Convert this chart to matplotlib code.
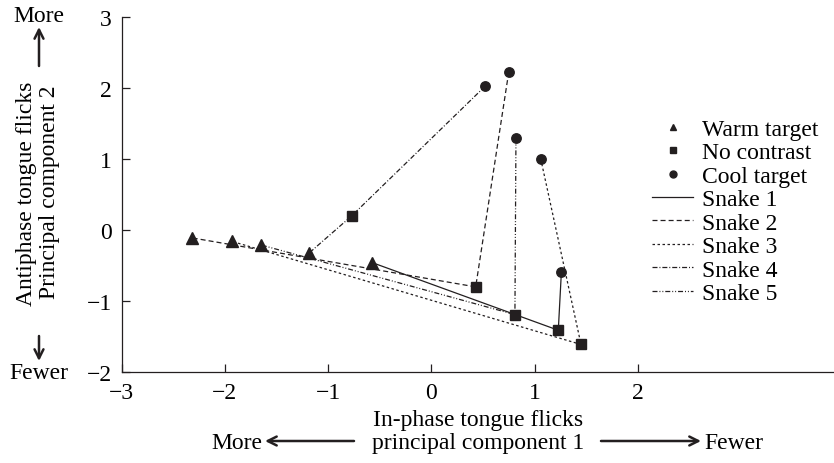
import matplotlib
matplotlib.use("Agg")
import matplotlib.pyplot as plt
from matplotlib.lines import Line2D

plt.rcParams['font.family'] = ['Liberation Serif', 'DejaVu Serif']
plt.rcParams['font.size'] = 17
plt.rcParams['lines.scale_dashes'] = False

# data: one point per snake and condition
snakes = ['Snake 1', 'Snake 2', 'Snake 3', 'Snake 4', 'Snake 5']
warm_x = [-0.57, -2.32, -1.93, -1.18, -1.65]
warm_y = [-0.46, -0.11, -0.16, -0.32, -0.21]
none_x = [1.23, 0.43, 1.45, -0.77, 0.81]
none_y = [-1.41, -0.80, -1.61, 0.20, -1.19]
cool_x = [1.26, 0.75, 1.06, 0.52, 0.82]
cool_y = [-0.59, 2.22, 1.00, 2.02, 1.30]
xticks = [-3, -2, -1, 0, 1, 2]
yticks = [-2, -1, 0, 1, 2, 3]

ink = '#231f20'
styles = ['-', (0, (3.6, 2.2)), (0, (1.8, 1.8)),
          (0, (3.6, 1.4, 0.7, 1.4)),
          (0, (3.6, 1.4, 0.7, 1.4, 0.7, 1.4))]

fig = plt.figure(figsize=(8.34, 4.64), dpi=100)
ax = fig.add_axes([121.5 / 834, 1 - 373.2 / 464, 1 - 121.5 / 834, (373.2 - 17.7) / 464])

for i in range(len(snakes)):
    ax.plot([cool_x[i], none_x[i], warm_x[i]], [cool_y[i], none_y[i], warm_y[i]],
            color=ink, lw=0.9, linestyle=styles[i])
ax.plot(warm_x, warm_y, '^', color=ink, ms=8, ls='none')
ax.plot(none_x, none_y, 's', color=ink, ms=6.8, ls='none')
ax.plot(cool_x, cool_y, 'o', color=ink, ms=6.8, ls='none')

ax.set_xlim(-3, 3.9)
ax.set_ylim(-2, 3)
ax.set_xticks(xticks)
ax.set_yticks(yticks)
ax.spines['top'].set_visible(False)
ax.spines['right'].set_visible(False)
for s in ['left', 'bottom']:
    ax.spines[s].set_linewidth(0.9)
    ax.spines[s].set_color(ink)
ax.tick_params(direction='in', length=6, width=0.9, color=ink, pad=7, labelsize=17)

handles = [Line2D([], [], marker='^', color=ink, ls='none', ms=5),
           Line2D([], [], marker='s', color=ink, ls='none', ms=5),
           Line2D([], [], marker='o', color=ink, ls='none', ms=5)]
labels = ['Warm target', 'No contrast', 'Cool target']
for i in range(len(snakes)):
    handles.append(Line2D([], [], color=ink, lw=0.9, linestyle=styles[i]))
    labels.append(snakes[i])
fig.legend(handles, labels, loc='upper left', bbox_to_anchor=(652 / 834, 1 - 119.5 / 464),
           frameon=False, borderpad=0, borderaxespad=0, handlelength=1.74,
           handletextpad=0.38, labelspacing=0.08, fontsize=17)

# y axis label with arrows
fig.text(27 / 834, 1 - 194 / 464, 'Antiphase tongue flicks', rotation=90, ha='center', va='center')
fig.text(50 / 834, 1 - 192 / 464, 'Principal component 2', rotation=90, ha='center', va='center')
fig.text(39 / 834, 1 - 17 / 464, 'More', ha='center', va='center')
fig.text(39 / 834, 1 - 374 / 464, 'Fewer', ha='center', va='center')
arr = dict(arrowstyle='->', lw=1.8, color=ink, mutation_scale=16, shrinkA=0, shrinkB=0)
fig.add_artist(matplotlib.patches.FancyArrowPatch((39 / 834, 1 - 67 / 464), (39 / 834, 1 - 28 / 464),
                                                  transform=fig.transFigure, **arr))
fig.add_artist(matplotlib.patches.FancyArrowPatch((39 / 834, 1 - 337 / 464), (39 / 834, 1 - 362 / 464),
                                                  transform=fig.transFigure, **arr))

# x axis label with arrows
fig.text(478 / 834, 1 - 421 / 464, 'In-phase tongue flicks', ha='center', va='center')
fig.text(478 / 834, 1 - 444 / 464, 'principal component 1', ha='center', va='center')
fig.text(262 / 834, 1 - 444 / 464, 'More', ha='right', va='center')
fig.text(704 / 834, 1 - 444 / 464, 'Fewer', ha='left', va='center')
fig.add_artist(matplotlib.patches.FancyArrowPatch((354 / 834, 1 - 442 / 464), (265 / 834, 1 - 442 / 464),
                                                  transform=fig.transFigure, **arr))
fig.add_artist(matplotlib.patches.FancyArrowPatch((601 / 834, 1 - 442 / 464), (701 / 834, 1 - 442 / 464),
                                                  transform=fig.transFigure, **arr))

fig.savefig('out.png', dpi=100)
